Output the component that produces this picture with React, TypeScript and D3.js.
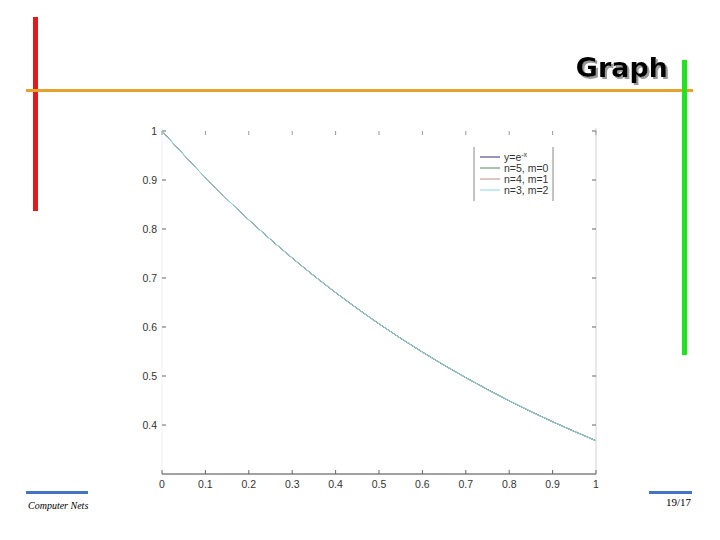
import { useEffect, useRef } from 'react';
import * as d3 from 'd3';

// values
const xValues = [0, 0.1, 0.2, 0.3, 0.4, 0.5, 0.6, 0.7, 0.8, 0.9, 1];
const expValues = [1, 0.9048, 0.8187, 0.7408, 0.6703, 0.6065, 0.5488, 0.4966, 0.4493, 0.4066, 0.3679];
const n5m0Values = [1, 0.9048, 0.8187, 0.7408, 0.6703, 0.6065, 0.5488, 0.4966, 0.4494, 0.4067, 0.3681];
const n4m1Values = [1, 0.9048, 0.8187, 0.7408, 0.6703, 0.6065, 0.5488, 0.4966, 0.4493, 0.4066, 0.3679];
const n3m2Values = [1, 0.9048, 0.8187, 0.7408, 0.6703, 0.6065, 0.5488, 0.4966, 0.4493, 0.4066, 0.3679];
const xTicks = [0, 0.1, 0.2, 0.3, 0.4, 0.5, 0.6, 0.7, 0.8, 0.9, 1];
const yTicks = [0.4, 0.5, 0.6, 0.7, 0.8, 0.9, 1];
const seriesNames = ['n=5, m=0', 'n=4, m=1', 'n=3, m=2'];

const App = () => {
  const ref = useRef<SVGSVGElement | null>(null);

  useEffect(() => {
    if (!ref.current) return;
    const svg = d3.select(ref.current);
    svg.selectAll('*').remove();

    // drop shadow for the title
    const defs = svg.append('defs');
    defs.append('filter')
      .attr('id', 'titleShadow')
      .attr('x', '-10%').attr('y', '-20%').attr('width', '130%').attr('height', '150%')
      .append('feDropShadow')
      .attr('dx', 2).attr('dy', 2).attr('stdDeviation', 0.6)
      .attr('flood-color', '#9a9a9a').attr('flood-opacity', 1);

    // slide decorations
    svg.append('rect').attr('x', 33).attr('y', 17).attr('width', 5).attr('height', 194).attr('fill', '#e01b1b');
    svg.append('rect').attr('x', 26).attr('y', 89).attr('width', 667).attr('height', 3).attr('fill', '#e8a129');
    svg.append('rect').attr('x', 682).attr('y', 60).attr('width', 5).attr('height', 295).attr('fill', '#1fe41f');

    svg.append('text')
      .attr('x', 668).attr('y', 77)
      .attr('text-anchor', 'end')
      .attr('filter', 'url(#titleShadow)')
      .style('font-family', 'DejaVu Sans')
      .style('font-weight', 'bold')
      .style('font-size', '27px')
      .attr('fill', '#000')
      .text('Graph');

    svg.append('rect').attr('x', 26).attr('y', 491).attr('width', 62).attr('height', 3).attr('fill', '#4472c4');
    svg.append('text')
      .attr('x', 28).attr('y', 509)
      .style('font-family', 'Liberation Serif')
      .style('font-style', 'italic')
      .style('font-size', '10px')
      .text('Computer Nets');
    svg.append('rect').attr('x', 649).attr('y', 491).attr('width', 43).attr('height', 3).attr('fill', '#4472c4');
    svg.append('text')
      .attr('x', 666).attr('y', 506)
      .style('font-family', 'Liberation Serif')
      .style('font-size', '11px')
      .text('19/17');

    // plot
    const left = 162, right = 596, top = 131, bottom = 474;
    const x = d3.scaleLinear().domain([0, 1]).range([left, right]);
    const y = d3.scaleLinear().domain([0.3, 1]).range([bottom, top]);

    const g = svg.append('g').style('font-family', 'Liberation Sans').style('font-size', '10.5px');

    // faint box
    g.append('line').attr('x1', left).attr('x2', left).attr('y1', top).attr('y2', bottom).attr('stroke', '#f0f0f0');
    g.append('line').attr('x1', right).attr('x2', right).attr('y1', top - 3).attr('y2', bottom).attr('stroke', '#d2d2d2');

    // bottom axis
    g.append('line').attr('x1', left).attr('x2', right).attr('y1', bottom).attr('y2', bottom).attr('stroke', '#444');
    xTicks.forEach(t => {
      g.append('line').attr('x1', x(t)).attr('x2', x(t)).attr('y1', bottom).attr('y2', bottom - 4).attr('stroke', '#666');
      g.append('line').attr('x1', x(t)).attr('x2', x(t)).attr('y1', top).attr('y2', top + 4).attr('stroke', '#999');
      g.append('text')
        .attr('x', x(t)).attr('y', bottom + 14)
        .attr('text-anchor', 'middle')
        .attr('fill', '#333')
        .text(d3.format('~g')(t));
    });

    // left/right ticks and labels
    yTicks.forEach(t => {
      g.append('line').attr('x1', left).attr('x2', left + 4).attr('y1', y(t)).attr('y2', y(t)).attr('stroke', '#666');
      g.append('line').attr('x1', right).attr('x2', right - 4).attr('y1', y(t)).attr('y2', y(t)).attr('stroke', '#666');
      g.append('text')
        .attr('x', left - 5).attr('y', y(t) + 3.5)
        .attr('text-anchor', 'end')
        .attr('fill', '#333')
        .text(d3.format('~g')(t));
    });

    const line = d3.line<number>()
      .x((_, i) => x(xValues[i]))
      .y(d => y(d))
      .curve(d3.curveMonotoneX);

    const series = [
      { values: expValues, color: '#2b2b7a' },
      { values: n5m0Values, color: '#4f8a5a' },
      { values: n4m1Values, color: '#c08a8a' },
      { values: n3m2Values, color: '#8ad6e0' },
    ];
    series.forEach(s => {
      g.append('path')
        .attr('d', line(s.values))
        .attr('fill', 'none')
        .attr('stroke', s.color)
        .attr('stroke-width', 1);
    });

    // legend
    const lg = g.append('g');
    lg.append('line').attr('x1', 474).attr('x2', 474).attr('y1', 147).attr('y2', 201).attr('stroke', '#888');
    lg.append('line').attr('x1', 553).attr('x2', 553).attr('y1', 147).attr('y2', 201).attr('stroke', '#888');
    const rowY = [157, 168, 179, 190];
    series.forEach((s, i) => {
      lg.append('line').attr('x1', 480).attr('x2', 500).attr('y1', rowY[i]).attr('y2', rowY[i]).attr('stroke', s.color);
    });
    const expLabel = lg.append('text').attr('x', 504).attr('y', rowY[0] + 3.5).attr('fill', '#333');
    expLabel.append('tspan').text('y=e');
    expLabel.append('tspan').attr('dy', -4).style('font-size', '7px').text('-x');
    seriesNames.forEach((name, i) => {
      lg.append('text').attr('x', 504).attr('y', rowY[i + 1] + 3.5).attr('fill', '#333').text(name);
    });
  }, []);

  return (
    <svg
      ref={ref}
      width={720}
      height={540}
      style={{ position: 'absolute', left: 0, top: 0, background: '#fff' }}
    />
  );
};

export default App;
